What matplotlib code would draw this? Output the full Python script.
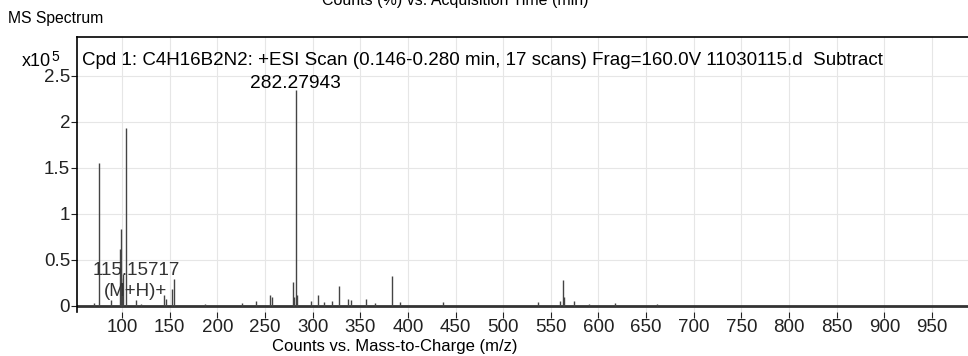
"""
MS spectrum of Cpd 1 (C4H16B2N2), +ESI scan
"""

import matplotlib.pyplot as plt

# peak positions (m/z) and heights (x10^5 counts)
mz = [70.5, 75.9, 88.0, 97.5, 98.6, 99.3, 100.5, 101.5, 104.2, 115.2,
      120.0, 144.5, 146.0, 152.5, 154.8, 187.0, 226.0, 241.0, 255.5, 257.0,
      280.0, 280.8, 282.28, 283.3, 298.0, 305.2, 312.0, 320.0, 327.6, 337.0,
      340.0, 356.0, 366.0, 383.6, 392.0, 437.0, 536.6, 560.0, 563.0, 564.2,
      574.0, 590.0, 617.0, 661.0]
intensity = [0.03, 1.55, 0.06, 0.62, 0.83, 0.30, 0.25, 0.35, 1.93, 0.06,
             0.02, 0.12, 0.08, 0.18, 0.29, 0.02, 0.03, 0.05, 0.12, 0.10,
             0.26, 0.10, 2.35, 0.12, 0.05, 0.12, 0.04, 0.05, 0.22, 0.07,
             0.06, 0.07, 0.03, 0.32, 0.04, 0.04, 0.04, 0.05, 0.28, 0.10,
             0.05, 0.02, 0.03, 0.02]

x_ticks = [100, 150, 200, 250, 300, 350, 400, 450, 500, 550, 600, 650, 700,
           750, 800, 850, 900, 950]
y_ticks = [0, 0.5, 1, 1.5, 2, 2.5]
y_tick_labels = ["0", "0.5", "1", "1.5", "2", "2.5"]

title = ("Cpd 1: C4H16B2N2: +ESI Scan (0.146-0.280 min, 17 scans) "
         "Frag=160.0V 11030115.d  Subtract")

plt.rcParams['font.family'] = ['Liberation Sans', 'DejaVu Sans']

fig = plt.figure(figsize=(9.68, 3.56), dpi=100)
ax = fig.add_axes([0.0795, 0.124, 0.9205, 0.772])

# grid
for xt in x_ticks:
    ax.axvline(xt, color='#e6e6e6', lw=0.8, zorder=0)
for yt in y_ticks[1:]:
    ax.axhline(yt, color='#e6e6e6', lw=0.8, zorder=0)

# baseline + peaks
ax.axhline(0, color='#333333', lw=2.0, zorder=1)
ax.vlines(mz, 0, intensity, color='#444444', lw=1.0, zorder=2)

ax.set_xlim(52.8, 987.7)
ax.set_ylim(-0.065, 2.92)
ax.set_xticks(x_ticks)
ax.set_yticks(y_ticks)
ax.set_yticklabels(y_tick_labels)
ax.tick_params(labelsize=13.5, length=4, width=0.8, pad=1, colors='#222222')
for s in ['right', 'bottom']:
    ax.spines[s].set_visible(False)
ax.spines['left'].set_linewidth(1.2)
ax.spines['top'].set_linewidth(1.2)

# annotations
ax.text(58, 2.66, title, fontsize=13.5, va='center', ha='left')
ax.text(282.28, 2.41, "282.27943", fontsize=13.8, ha='center', va='center')
ax.text(115.5, 0.38, "115.15717", fontsize=13.5, ha='center', va='center',
        color='#333333')
ax.text(114, 0.16, "(M+H)+", fontsize=13.5, ha='center', va='center',
        color='#333333')

# figure text
fig.text(455 / 968, 1 - 1 / 356, "Counts (%) vs. Acquisition Time (min)",
         fontsize=11.5, ha='center', va='center')
fig.text(8 / 968, 1 - 18 / 356, "MS Spectrum", fontsize=11.3,
         ha='left', va='center')
fig.text(22 / 968, 1 - 61 / 356, "x10", fontsize=13, ha='left', va='center')
fig.text(51 / 968, 1 - 57 / 356, "5", fontsize=10, ha='left', va='center')
fig.text(395 / 968, 1 - 346 / 356, "Counts vs. Mass-to-Charge (m/z)",
         fontsize=12, ha='center', va='center')

fig.savefig("out.png", dpi=100)
